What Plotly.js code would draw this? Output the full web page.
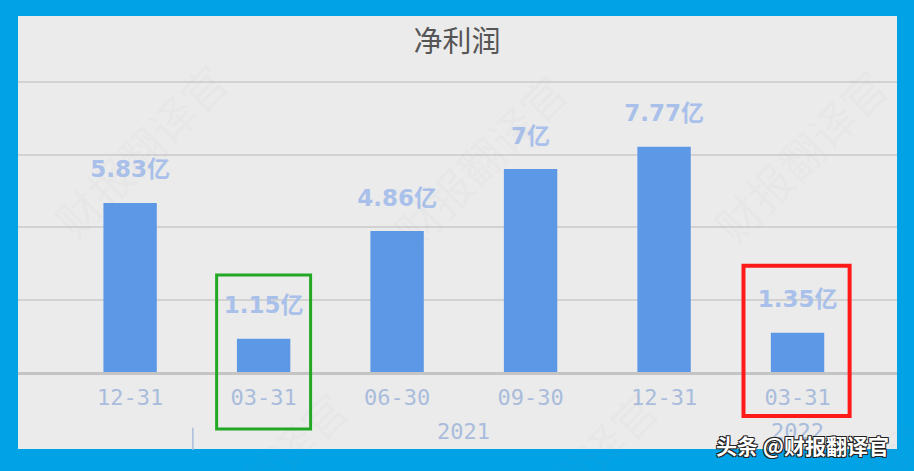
<!DOCTYPE html>
<html>
<head>
<meta charset="utf-8">
<script src="https://cdn.plot.ly/plotly-3.0.1.min.js"></script>
<style>
  html, body { margin:0; padding:0; }
  #frame { position:relative; width:914px; height:471px; background:#02a3e6; overflow:hidden; }
  #panel { position:absolute; left:18px; top:16px; width:879px; height:433px; background:#ebebeb; }
  #chart { position:absolute; left:0; top:0; width:914px; height:471px; }
</style>
</head>
<body>
<div id="frame"><div id="panel"></div><div id="chart"></div></div>
<script>
// ---- data ----
const dates = ['12-31', '03-31', '06-30', '09-30', '12-31', '03-31'];
const years = ['', '2021', '2021', '2021', '2021', '2022'];
const netProfit = [5.83, 1.15, 4.86, 7.00, 7.77, 1.35];   // 亿
const labels = netProfit.map(v => (Math.round(v * 100) / 100) + '亿');
const chartTitle = '净利润';
const watermark = '财报翻译官';
const credit = '头条 @财报翻译官';

const idx = dates.map((d, i) => i);

const bars = {
  type: 'bar',
  x: idx,
  y: netProfit,
  width: 0.4,
  marker: { color: '#5d98e6' },
  hoverinfo: 'skip'
};

const valueLabels = {
  type: 'scatter',
  mode: 'markers+text',
  x: idx,
  y: netProfit,
  text: labels,
  textposition: 'top center',
  marker: { size: 30, opacity: 0 },
  textfont: { family: 'DejaVu Sans, Noto Sans CJK SC', size: 23, color: '#a9c1ea', weight: 'bold' },
  cliponaxis: false,
  hoverinfo: 'skip'
};

// year group labels, centred under their quarters
const yearGroups = [...new Set(years.filter(y => y))];
const annotations = yearGroups.map(yr => {
  const members = idx.filter(i => years[i] === yr);
  const mid = members.reduce((a, b) => a + b, 0) / members.length;
  return {
    xref: 'x', yref: 'paper', x: mid, y: -0.204, xanchor: 'center', yanchor: 'middle',
    text: yr, showarrow: false,
    font: { family: 'DejaVu Sans Mono', size: 22, color: '#a9bcdc' }
  };
});

// faint diagonal watermarks
const wmPos = [[0.139, 0.755], [0.526, 0.721], [0.890, 0.738], [0.275, -0.36], [0.628, -0.36], [1.003, -0.26]];
wmPos.forEach(p => annotations.push({
  xref: 'paper', yref: 'paper', x: p[0], y: p[1], xanchor: 'center', yanchor: 'middle',
  text: watermark, showarrow: false, textangle: -45,
  font: { family: 'Noto Sans CJK SC', size: 44, color: 'rgba(120,120,120,0.055)' }
}));
annotations.push({
  xref: 'paper', yref: 'paper', x: 0.893, y: -0.248, xanchor: 'center', yanchor: 'middle',
  text: credit, showarrow: false,
  font: { family: 'Noto Sans CJK SC', size: 21, color: '#ffffff', weight: 'bold',
          shadow: '1px 1px 0 #222, -1px -1px 0 #222, 1px -1px 0 #222, -1px 1px 0 #222' }
});

const shapes = [
  { type: 'line', xref: 'x', yref: 'paper', x0: 0.47, x1: 0.47, y0: -0.19, y1: -0.265,
    line: { color: '#a9bcdc', width: 1.5 } },
  { type: 'rect', xref: 'x', yref: 'paper', x0: 0.648, x1: 1.352, y0: -0.194, y1: 0.330,
    line: { color: '#22a824', width: 3 }, layer: 'above' },
  { type: 'rect', xref: 'x', yref: 'paper', x0: 4.595, x1: 5.39, y0: -0.150, y1: 0.361,
    line: { color: '#ff1a1a', width: 4 }, layer: 'above' }
];

const layout = {
  width: 914, height: 471,
  margin: { l: 18, r: 17, t: 78, b: 99 },
  paper_bgcolor: 'rgba(0,0,0,0)',
  plot_bgcolor: 'rgba(0,0,0,0)',
  showlegend: false,
  title: {
    text: chartTitle,
    x: 0.5, xref: 'container', xanchor: 'center',
    y: 0.911, yref: 'container', yanchor: 'middle',
    font: { family: 'Noto Sans CJK SC', size: 29, color: '#555555' }
  },
  xaxis: {
    range: [-0.84, 5.745],
    tickvals: idx, ticktext: dates,
    showgrid: false, zeroline: false,
    showline: true, linecolor: '#c4c4c4', linewidth: 3,
    ticks: '',
    ticklabelstandoff: 4,
    tickfont: { family: 'DejaVu Sans Mono', size: 22, color: '#a9bcdc' }
  },
  yaxis: {
    range: [0, 10.14],
    tickvals: [2.5, 5, 7.5, 10],
    showticklabels: false,
    showgrid: true, gridcolor: '#d2d2d2', gridwidth: 2,
    zeroline: false, showline: false, ticks: ''
  },
  annotations: annotations,
  shapes: shapes
};

Plotly.newPlot('chart', [bars, valueLabels], layout, { displayModeBar: false, staticPlot: true });
</script>
</body>
</html>
